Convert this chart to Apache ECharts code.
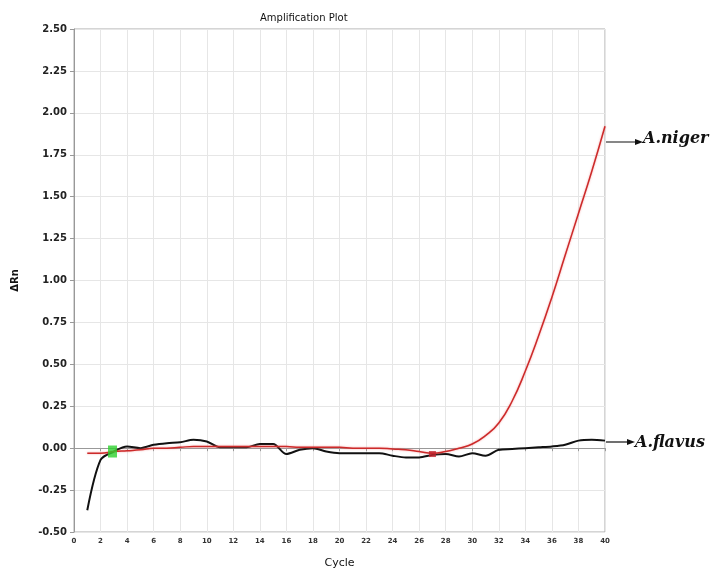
<!DOCTYPE html>
<html>
<head>
<meta charset="utf-8">
<script src="https://cdn.jsdelivr.net/npm/echarts@6/dist/echarts.min.js"></script>
<style>
  html, body { margin: 0; padding: 0; background: #fff; }
  #plot { width: 723px; height: 574px; }
</style>
</head>
<body>
<div id="plot"></div>
<script>
var cycles = [1, 2, 3, 4, 5, 6, 7, 8, 9, 10, 11, 12, 13, 14, 15, 16, 17, 18, 19, 20,
  21, 22, 23, 24, 25, 26, 27, 28, 29, 30, 31, 32, 33, 34, 35, 36, 37, 38, 39, 40];
var nigerRn = [-0.03, -0.03, -0.02, -0.015, -0.01, 0.0, 0.0, 0.005, 0.01, 0.01,
  0.01, 0.01, 0.01, 0.01, 0.01, 0.01, 0.005, 0.005, 0.005, 0.005,
  0.0, 0.0, 0.0, -0.005, -0.01, -0.02, -0.03, -0.02, 0.0, 0.025,
  0.075, 0.15, 0.28, 0.46, 0.67, 0.90, 1.15, 1.40, 1.65, 1.92];
var flavusRn = [-0.37, -0.07, -0.02, 0.01, 0.0, 0.02, 0.03, 0.035, 0.05, 0.04,
  0.005, 0.005, 0.005, 0.025, 0.025, -0.035, -0.01, 0.0, -0.02, -0.03,
  -0.03, -0.03, -0.03, -0.045, -0.055, -0.055, -0.04, -0.035, -0.05, -0.03,
  -0.045, -0.01, -0.005, 0.0, 0.005, 0.01, 0.02, 0.045, 0.05, 0.045];
var startMark = [[2.9, -0.02]];
var ctMark = [[27, -0.035]];

var myChart = echarts.init(document.getElementById("plot"));

function pairs(xs, ys) {
  return xs.map(function (x, i) { return [x, ys[i]]; });
}

var option = {
  animation: false,
  title: {
    text: "Amplification Plot",
    left: 255,
    top: 8,
    textStyle: { fontSize: 10, fontWeight: "normal", color: "#111", fontFamily: "DejaVu Sans" }
  },
  grid: { left: 74, right: 118, top: 29, bottom: 41, show: true, borderColor: "#aaa", borderWidth: 1 },
  xAxis: {
    type: "value",
    min: 0,
    max: 40,
    interval: 2,
    name: "Cycle",
    nameLocation: "middle",
    nameGap: 26,
    nameTextStyle: { fontSize: 11, color: "#111", fontFamily: "DejaVu Sans" },
    axisLine: { lineStyle: { color: "#999" } },
    axisTick: { length: 3, lineStyle: { color: "#999" } },
    axisLabel: { fontSize: 7, fontWeight: "bold", color: "#333", margin: 6, fontFamily: "DejaVu Sans" },
    splitLine: { show: true, lineStyle: { color: "#e6e6e6" } }
  },
  yAxis: {
    type: "value",
    min: -0.5,
    max: 2.5,
    interval: 0.25,
    name: "ΔRn",
    nameLocation: "middle",
    nameGap: 54,
    nameRotate: 90,
    nameTextStyle: { fontSize: 10, fontWeight: "bold", color: "#111", fontFamily: "DejaVu Sans" },
    axisLine: { show: true, lineStyle: { color: "#999" } },
    axisTick: { show: true, length: 4, lineStyle: { color: "#999" } },
    axisLabel: {
      fontSize: 10, fontWeight: "bold", color: "#222", margin: 7, fontFamily: "DejaVu Sans",
      formatter: function (v) { return v.toFixed(2); }
    },
    splitLine: { show: true, lineStyle: { color: "#e6e6e6" } }
  },
  series: [
    {
      name: "A.flavus",
      type: "line",
      data: pairs(cycles, flavusRn),
      showSymbol: false,
      smooth: 0.3,
      lineStyle: { color: "#111", width: 2 },
      z: 3
    },
    {
      name: "A.niger",
      type: "line",
      data: pairs(cycles, nigerRn),
      showSymbol: false,
      smooth: 0.5,
      lineStyle: { color: "#cc2a2a", width: 1.5, shadowColor: "rgba(240,120,120,0.7)", shadowBlur: 2 },
      z: 4
    },
    {
      type: "scatter",
      data: startMark,
      symbol: "rect",
      symbolSize: [9, 12],
      itemStyle: { color: "#2ed12e" },
      z: 5
    },
    {
      type: "scatter",
      data: ctMark,
      symbol: "rect",
      symbolSize: [7, 6],
      itemStyle: { color: "#c0202a" },
      z: 5
    }
  ],
  graphic: [
    {
      type: "line",
      shape: { x1: 605, y1: 142, x2: 638, y2: 142 },
      style: { stroke: "#111", lineWidth: 1.2 }
    },
    {
      type: "polygon",
      shape: { points: [[643, 142], [635, 139], [635, 145]] },
      style: { fill: "#111" }
    },
    {
      type: "text",
      left: 643,
      top: 131,
      style: { text: "A.niger", font: "italic bold 16px 'DejaVu Serif'", fill: "#111" }
    },
    {
      type: "line",
      shape: { x1: 605, y1: 442, x2: 630, y2: 442 },
      style: { stroke: "#111", lineWidth: 1.2 }
    },
    {
      type: "polygon",
      shape: { points: [[635, 442], [627, 439], [627, 445]] },
      style: { fill: "#111" }
    },
    {
      type: "text",
      left: 635,
      top: 435,
      style: { text: "A.flavus", font: "italic bold 16px 'DejaVu Serif'", fill: "#111" }
    }
  ]
};

myChart.setOption(option);
</script>
</body>
</html>
